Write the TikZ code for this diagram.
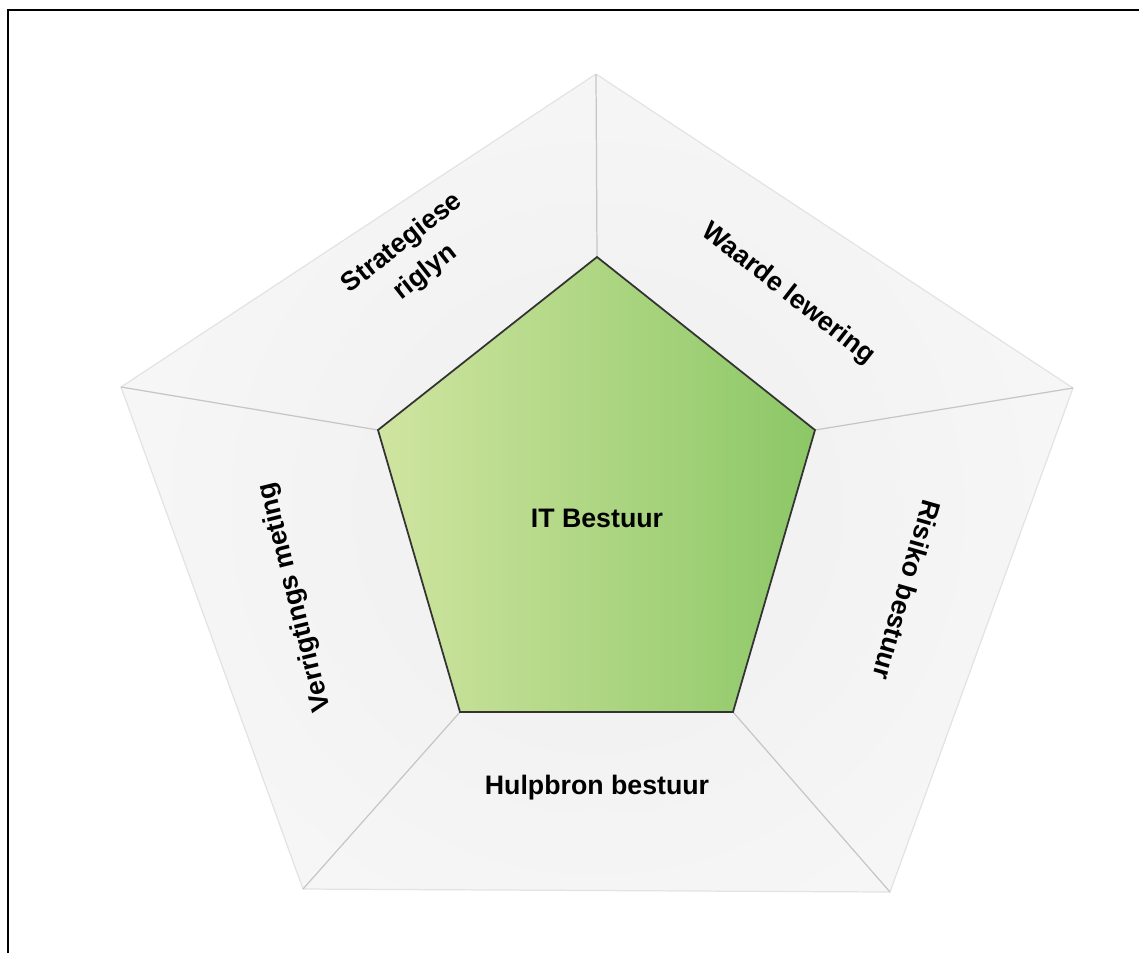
\documentclass[tikz,border=0pt]{standalone}
\usepackage{fontspec}
\setmainfont{Liberation Sans}
\definecolor{gleft}{RGB}{208,229,160}
\definecolor{gright}{RGB}{140,199,102}
\begin{document}
\begin{tikzpicture}[x=0.01cm, y=-0.01cm,
  font=\fontsize{7.6}{10.6}\selectfont\bfseries,
  spoke/.style={draw=gray!45, line width=0.35pt},
  rim/.style={draw=gray!22, line width=0.35pt},
  lbl/.style={align=center, inner sep=0pt}]
\useasboundingbox (0,0) rectangle (1139,953);

%% --- frame ---
\draw[line width=0.6pt] (8,953) -- (8,10) -- (1139,10);

%% --- vertices: inner pentagon (i), outer rim (o) ---
\coordinate (c)  at (597,508);
\coordinate (i1) at (597,257);
\coordinate (i2) at (815,430);
\coordinate (i3) at (733,712);
\coordinate (i4) at (460,712);
\coordinate (i5) at (378,430);
\coordinate (o1) at (596,74);
\coordinate (o2) at (1073,388);
\coordinate (o3) at (890,892);
\coordinate (o4) at (303,889);
\coordinate (o5) at (121,387);

%% --- light fans ---
\begin{scope}
  \clip (o1) -- (o2) -- (o3) -- (o4) -- (o5) -- cycle;
  \shade[inner color=gray!13, outer color=white] (c) circle (1000);
\end{scope}
\draw[rim] (o1) -- (o2) -- (o3) -- (o4) -- (o5) -- cycle;
\foreach \k in {1,...,5}{
  \draw[spoke] (i\k) -- (o\k);
}

%% --- core ---
\shade[left color=gleft, right color=gright, draw=black!80, line width=0.5pt]
  (i1) -- (i2) -- (i3) -- (i4) -- (i5) -- cycle;

%% --- labels ---
\node[lbl] (itb) at (597,518) {IT Bestuur};
\node[lbl, rotate=38]   (strat)  at (414,258) {Strategiese\\riglyn};
\node[lbl, rotate=-38]  (waarde) at (788,294) {Waarde lewering};
\node[lbl, rotate=-106] (risiko) at (907,590) {Risiko bestuur};
\node[lbl] (hulp) at (597,788) {Hulpbron bestuur};
\node[lbl, rotate=104]  (verr)   at (295,597) {Verrigtings meting};
\end{tikzpicture}
\end{document}
